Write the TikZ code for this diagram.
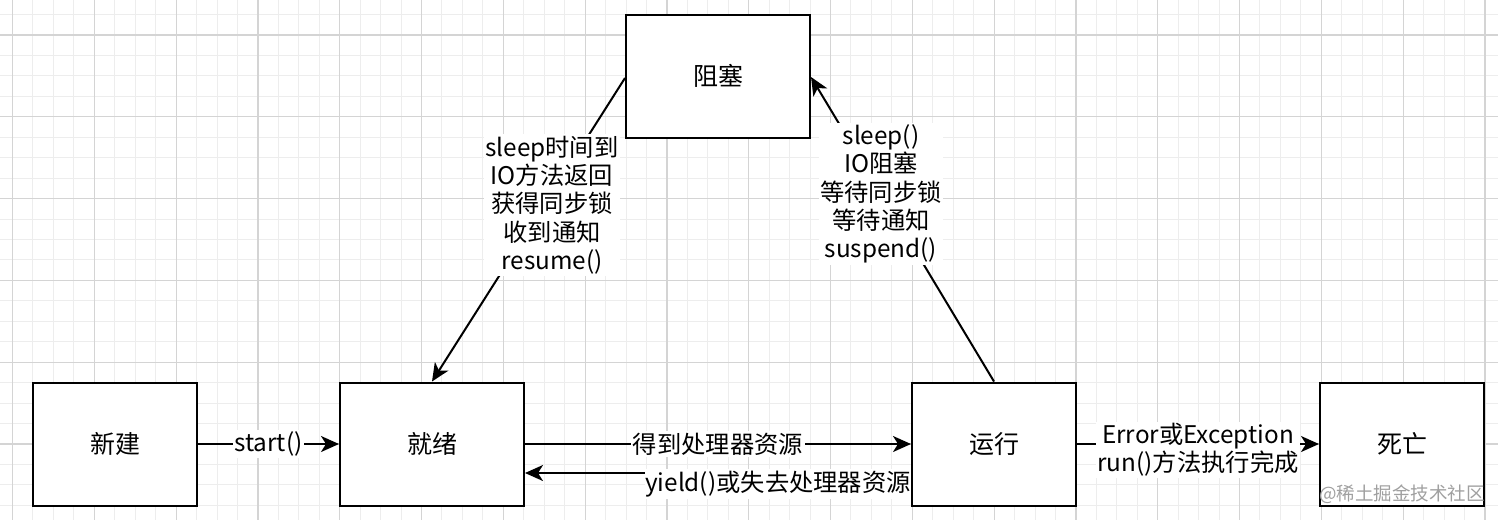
\documentclass[tikz,border=0pt]{standalone}
\usepackage{fontspec}
\setmainfont{Noto Sans CJK SC}
\usetikzlibrary{arrows.meta}
\definecolor{gmajor}{RGB}{212,212,212}
\definecolor{gminor}{RGB}{237,237,237}
\definecolor{wm}{RGB}{160,160,160}
\begin{document}
\begin{tikzpicture}[x=1pt,y=-1pt,
  box/.style={draw=black, line width=2pt, fill=white, minimum height=123pt, inner sep=0pt, font=\fontsize{25}{28}\selectfont},
  conn/.style={line width=2pt, -{Stealth[length=18pt,width=16pt,inset=5pt]}},
  lbl/.style={fill=white, inner sep=1.5pt, align=center, font=\fontsize{24.3}{28.3}\selectfont}]
\useasboundingbox (0,0) rectangle (1498,520);
\fill[white] (0,0) rectangle (1498,520);
\begin{scope}
\clip (0,0) rectangle (1498,520);
\foreach \i in {0,...,74} \draw[gminor, line width=1pt] ({-7.95+\i*20.45},0) -- ++(0,520);
\foreach \i in {0,...,26} \draw[gminor, line width=1pt] (0,{-5.9+\i*20.45}) -- ++(1498,0);
\foreach \i in {0,...,18} \draw[gmajor, line width=1.2pt] ({12.5+\i*81.8},0) -- ++(0,520);
\foreach \i in {0,...,6} \draw[gmajor, line width=1.2pt] (0,{35+\i*81.8}) -- ++(1498,0);
\end{scope}
% boxes
\node[box, minimum width=184pt] (zs) at (718,76) {阻塞};
\node[box, minimum width=164pt] (xj) at (115,444) {新建};
\node[box, minimum width=184pt] (jx) at (432,444) {就绪};
\node[box, minimum width=164pt] (yx) at (994,444) {运行};
\node[box, minimum width=164pt] (sw) at (1402,444) {死亡};
% connectors
\draw[conn] (xj.east) -- node[lbl] (l1) {start()} (jx.west);
\draw[conn] (jx.east) -- node[lbl] (l2) {得到处理器资源} (yx.west);
\draw[conn] ([yshift=-29pt]yx.west) -- ([yshift=-29pt]jx.east);
\node[lbl, anchor=east, inner xsep=0pt] (l3) at ([yshift=-40pt]yx.west) {yield()或失去处理器资源};
\draw[conn] (yx.east) -- node[lbl, yshift=-6pt] (l4) {Error或Exception\\run()方法执行完成} (sw.west);
\draw[conn] ([yshift=-2pt]zs.west) -- (jx.north);
\node[lbl] (l5) at (552,205) {sleep时间到\\IO方法返回\\获得同步锁\\收到通知\\resume()};
\draw[conn] (yx.north) -- ([yshift=-1pt]zs.east);
\node[lbl] (l6) at (881,194) {sleep()\\IO阻塞\\等待同步锁\\等待通知\\suspend()};
% watermark
\node[text=wm, inner sep=0pt, font=\fontsize{18.5}{20}\selectfont] (wmk) at (1402,494) {@稀土掘金技术社区};
\end{tikzpicture}
\end{document}
